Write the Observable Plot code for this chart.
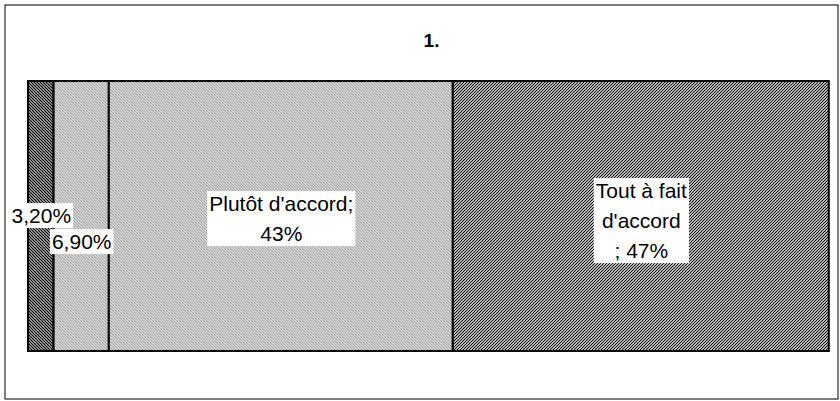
<!DOCTYPE html>
<html><head><meta charset="utf-8">
<script src="https://cdn.jsdelivr.net/npm/d3@7"></script>
<script src="https://cdn.jsdelivr.net/npm/@observablehq/plot@0.6"></script>
<style>body{margin:0;background:#fff;} svg{display:block;}</style>
</head><body><div id="chart"></div>
<script>
// ---- data ----
const title = "1.";
const rowKey = "1";
const categories = ["Pas du tout d'accord", "Plutôt pas d'accord", "Plutôt d'accord", "Tout à fait d'accord"];
const values = [3.2, 6.9, 43, 47];
const labels = ["3,20%", "6,90%", "Plutôt d'accord;\n43%", "Tout à fait\nd'accord\n; 47%"];

// ---- styles ----
const segStyle = {
  "Pas du tout d'accord": {fill: "url(#hatchA)", dy: -3},
  "Plutôt pas d'accord": {fill: "url(#hatchL)", dy: 23},
  "Plutôt d'accord": {fill: "url(#hatchL)", dy: 0},
  "Tout à fait d'accord": {fill: "url(#hatchB)", dy: 2}
};
const font = "'Liberation Sans', Arial, Helvetica, sans-serif";

const ends = d3.cumsum(values);
const rows = categories.map((c, i) => ({
  category: c, value: values[i], x1: ends[i] - values[i], x2: ends[i], label: labels[i], row: rowKey
}));

function defs() {
  const d = d3.create("svg:defs");
  const pA = d.append("pattern").attr("id", "hatchA").attr("patternUnits", "userSpaceOnUse").attr("width", 3).attr("height", 3);
  pA.append("rect").attr("width", 3).attr("height", 3).attr("fill", "#fff");
  pA.append("path").attr("d", "M-1,-1L4,4M-1,2L1,4M2,-1L4,1").attr("stroke", "#000").attr("stroke-width", 1.3);
  const pB = d.append("pattern").attr("id", "hatchB").attr("patternUnits", "userSpaceOnUse").attr("width", 3).attr("height", 3);
  pB.append("rect").attr("width", 3).attr("height", 3).attr("fill", "#fff");
  pB.append("path").attr("d", "M-1,4L4,-1M-1,1L1,-1M2,4L4,2").attr("stroke", "#000").attr("stroke-width", 1.1);
  const pL = d.append("pattern").attr("id", "hatchL").attr("patternUnits", "userSpaceOnUse").attr("width", 3).attr("height", 3);
  pL.append("rect").attr("width", 3).attr("height", 3).attr("fill", "#cdcdcd");
  pL.append("path").attr("d", "M-1,-1L4,4M-1,2L1,4M2,-1L4,1").attr("stroke", "#a4a4a4").attr("stroke-width", 0.8);
  return d.node();
}

const marks = [defs];
rows.forEach(r => {
  marks.push(Plot.barX([r], {x1: "x1", x2: "x2", y: "row", fill: segStyle[r.category].fill, stroke: "#000", strokeWidth: 2}));
});
rows.forEach(r => {
  marks.push(Plot.text([r], {x: d => (d.x1 + d.x2) / 2, y: "row", text: "label", dy: segStyle[r.category].dy,
    fontSize: 21, lineHeight: 1.43, fill: "#000", fontFamily: font}));
});
marks.push(Plot.text([title], {text: d => d, frameAnchor: "top", dy: 33, dx: 11, fontSize: 19, fontWeight: "bold", fill: "#000", fontFamily: font}));
marks.push(Plot.frame({insetLeft: 4.5, insetTop: 4.5, insetRight: 2.5, insetBottom: 2.5, stroke: "#000", strokeWidth: 1}));

const chart = Plot.plot({
  width: 840, height: 401,
  marginTop: 0, marginBottom: 0, marginLeft: 0, marginRight: 0,
  style: {background: "#fff", fontFamily: font},
  x: {domain: [0, 100], range: [28, 828], axis: null},
  y: {domain: [rowKey], range: [81, 351], padding: 0, axis: null},
  marks
});
document.getElementById("chart").appendChild(chart);

// white label backgrounds
d3.select(chart).selectAll("g[aria-label=text] text").each(function() {
  if (this.textContent === title) return;
  const b = this.getBBox();
  const padX = 2, padY = 1;
  d3.select(this.parentNode).insert("rect", () => this)
    .attr("x", b.x - padX).attr("y", b.y - padY)
    .attr("width", b.width + 2 * padX).attr("height", b.height + 2 * padY)
    .attr("fill", "#fff").attr("transform", this.getAttribute("transform"));
});
</script>
</body></html>
